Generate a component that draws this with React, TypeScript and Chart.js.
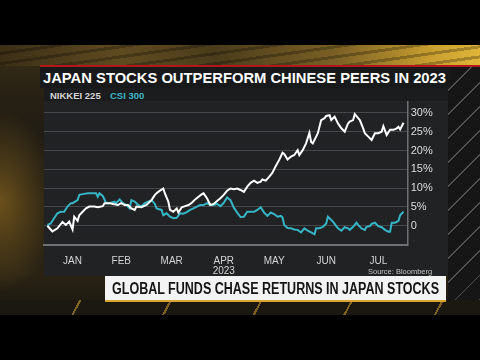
import React, { useEffect, useRef } from "react";
import { Chart, registerables } from "chart.js";

Chart.register(...registerables);

const titleText = "JAPAN STOCKS OUTPERFORM CHINESE PEERS IN 2023";
const bannerText = "GLOBAL FUNDS CHASE RETURNS IN JAPAN STOCKS";
const sourceText = "Source: Bloomberg";
const seriesNames = ["NIKKEI 225", "CSI 300"];

// x values: days since Jan 1, 2023
const monthLabels = ["JAN", "FEB", "MAR", "APR", "MAY", "JUN", "JUL"];
const monthTickDays = [15, 44, 74, 105, 135, 166, 197];
const yearLabel = "2023";
const yearLabelIndex = 3;
const yTickValues = [0, 5, 10, 15, 20, 25, 30];

const nikkeiDays = [
  0, 3, 6, 9, 11, 13, 15, 16, 18, 19, 21, 23, 25, 28, 30, 33, 34, 37, 39, 42,
  44, 46, 48, 50, 52, 53, 56, 59, 62, 64, 66, 69, 70, 72, 73, 75, 77, 78, 80, 82,
  84, 86, 88, 90, 92, 93, 95, 97, 99, 101, 103, 105, 107, 109, 111, 113, 115, 117, 119, 121,
  123, 125, 127, 128, 130, 132, 134, 136, 138, 140, 141, 143, 145, 147, 149, 150, 152, 154, 156, 157,
  158, 160, 161, 163, 165, 166, 168, 169, 171, 173, 175, 177, 179, 180, 182, 183, 185, 186, 188, 189,
  191, 193, 195, 197, 199, 200, 202, 204, 206, 208, 209, 210, 212,
];
const nikkeiValues = [
  0, -1.5, -0.7, 1.0, 0.2, 1.1, -1.0, 2.4, 1.3, 2.8, 3.7, 4.6, 5.1, 5.1, 4.9, 5.2, 6.0, 6.0, 5.8, 5.5,
  6.0, 5.5, 5.5, 4.6, 4.2, 5.1, 4.9, 5.5, 6.8, 8.2, 9.0, 9.9, 8.5, 6.4, 4.2, 3.7, 4.6, 3.5, 4.9, 5.2,
  5.5, 6.1, 7.0, 7.7, 8.4, 8.6, 7.3, 5.5, 5.8, 6.6, 7.3, 8.2, 9.3, 9.9, 9.7, 9.9, 9.5, 9.0, 10.4, 11.4,
  12.0, 11.4, 11.7, 12.3, 12.0, 13.0, 14.1, 15.9, 17.5, 19.4, 19.1, 17.6, 18.4, 18.8, 20.1, 18.8, 20.1, 21.9, 24.7, 22.3,
  21.9, 23.7, 24.6, 28.1, 28.6, 29.2, 29.4, 28.1, 29.0, 27.2, 25.9, 25.0, 27.2, 27.7, 28.1, 29.7, 28.6, 28.1, 25.9, 24.6,
  23.7, 22.8, 24.6, 24.6, 25.0, 26.5, 24.1, 25.5, 25.5, 25.9, 26.3, 25.6, 27.4,
];

const csiDays = [
  0, 2, 4, 6, 8, 10, 12, 14, 15, 18, 19, 21, 24, 27, 29, 30, 31, 33, 35, 37,
  40, 41, 43, 45, 47, 49, 50, 52, 54, 56, 58, 60, 62, 64, 65, 68, 69, 71, 73, 75,
  77, 79, 81, 83, 85, 87, 89, 91, 93, 95, 97, 99, 101, 103, 105, 107, 109, 111, 113, 115,
  117, 119, 121, 123, 125, 127, 129, 131, 133, 135, 137, 139, 140, 141, 143, 145, 147, 149, 151, 153,
  155, 157, 159, 160, 162, 164, 166, 167, 169, 170, 172, 173, 175, 177, 179, 180, 182, 184, 185, 187,
  189, 190, 192, 193, 195, 197, 199, 201, 203, 204, 205, 207, 209, 210, 212,
];
const csiValues = [
  0.2, 0.6, 2.0, 3.3, 3.7, 3.7, 5.1, 6.0, 6.0, 6.8, 8.2, 8.4, 8.6, 8.6, 8.6, 7.7, 8.6, 7.9, 6.0, 6.0,
  6.4, 6.0, 7.0, 6.0, 5.5, 4.6, 6.8, 6.4, 5.5, 5.1, 6.0, 6.4, 6.8, 5.8, 4.6, 4.2, 2.8, 3.3, 2.4, 2.0,
  2.1, 3.3, 3.2, 3.6, 4.2, 4.6, 5.1, 5.5, 5.5, 6.0, 5.5, 5.5, 5.8, 5.2, 6.1, 7.5, 6.8, 4.8, 3.5, 2.3,
  2.4, 3.7, 3.7, 3.7, 4.2, 4.9, 3.5, 2.6, 3.5, 3.1, 2.4, 2.6, 2.2, 0.2, -0.6, -0.7, -1.0, -1.1, -1.8, -0.7,
  -1.3, -1.8, -2.3, -0.7, -0.7, -0.3, 0.6, 2.4, 1.5, 1.1, -0.1, -0.7, -1.3, -0.4, -0.7, -1.1, -0.3, 0.8, 0.2, -0.7,
  -1.1, -0.3, -0.1, 0.5, 0.8, -0.1, -0.4, -1.1, -1.6, -1.6, 0.8, 0.8, 1.3, 2.8, 3.7,
];

const toPoints = (days: number[], vals: number[]) => {
  const n = Math.min(days.length, vals.length);
  const out: { x: number; y: number }[] = [];
  for (let i = 0; i < n; i++) out.push({ x: days[i], y: vals[i] });
  return out;
};

const FONT = "'Liberation Sans', Arial, sans-serif";

export default function App() {
  const canvasRef = useRef<HTMLCanvasElement>(null);
  const titleRef = useRef<HTMLSpanElement>(null);
  const bannerRef = useRef<HTMLSpanElement>(null);

  useEffect(() => {
    const fit = (el: HTMLElement | null, target: number) => {
      if (!el) return;
      el.style.transform = "none";
      const w = el.getBoundingClientRect().width;
      if (w > 0) el.style.transform = `scaleX(${target / w})`;
    };
    fit(titleRef.current, 403);
    fit(bannerRef.current, 327);

    const canvas = canvasRef.current!;
    const chart = new Chart(canvas, {
      type: "line",
      data: {
        datasets: [
          {
            label: seriesNames[0],
            data: toPoints(nikkeiDays, nikkeiValues),
            borderColor: "#ffffff",
            borderWidth: 2,
            pointRadius: 0,
            tension: 0,
          },
          {
            label: seriesNames[1],
            data: toPoints(csiDays, csiValues),
            borderColor: "#36b5c6",
            borderWidth: 2,
            pointRadius: 0,
            tension: 0,
          },
        ],
      },
      options: {
        responsive: false,
        animation: false,
        devicePixelRatio: 1,
        parsing: false as any,
        layout: { padding: { left: 44, top: 102, right: 0, bottom: 0 } },
        plugins: { legend: { display: false }, tooltip: { enabled: false } },
        scales: {
          x: {
            type: "linear",
            min: -2,
            max: 214.5,
            grid: { display: false },
            border: { display: true, color: "#6f7073", width: 2 },
            afterBuildTicks: (s: any) => {
              s.ticks = monthTickDays.map((v) => ({ value: v }));
            },
            afterFit: (s: any) => {
              s.height = 115;
            },
            ticks: {
              autoSkip: false,
              maxRotation: 0,
              padding: 3,
              color: "#d4d4d4",
              font: { family: FONT, size: 10, lineHeight: 1.0 },
              callback: (_v: any, i: number) =>
                i === yearLabelIndex ? [monthLabels[i], yearLabel] : monthLabels[i],
            },
          },
          y: {
            position: "right",
            min: -5.13,
            max: 32.9,
            afterBuildTicks: (s: any) => {
              s.ticks = yTickValues.map((v) => ({ value: v }));
            },
            afterFit: (s: any) => {
              s.width = 72.3;
            },
            grid: { color: "#46474a", lineWidth: 1, drawTicks: false },
            border: { display: true, color: "#6f7073", width: 1.5 },
            ticks: {
              padding: 3,
              color: "#dcdcdc",
              font: { family: FONT, size: 11 },
              callback: (v: any) => (Number(v) === 0 ? "0" : `${v}%`),
            },
          },
        },
      },
    });
    return () => chart.destroy();
  }, []);

  const abs = (s: React.CSSProperties): React.CSSProperties => ({ position: "absolute", ...s });

  return (
    <div
      style={{
        position: "fixed",
        left: 0,
        top: 0,
        width: 480,
        height: 360,
        background: "#000",
        overflow: "hidden",
        fontFamily: FONT,
      }}
    >
      {/* video background */}
      <div
        style={abs({
          left: 0,
          top: 45,
          width: 480,
          height: 270,
          background:
            "radial-gradient(ellipse 60px 90px at 0% 58%, rgba(170,125,35,0.55), rgba(0,0,0,0)), linear-gradient(to bottom, #3a2f17 0%, #262014 20%, #1c1913 50%, #2a2314 85%, #1a1710 100%)",
        })}
      />
      <div
        style={abs({
          left: 0,
          top: 45,
          width: 480,
          height: 21,
          background:
            "repeating-linear-gradient(172deg, rgba(0,0,0,0) 0 7px, rgba(0,0,0,0.25) 7px 10px), linear-gradient(to right, #3a2e16 0%, #5f4b20 25%, #4a3c1b 45%, #7a6025 70%, #c99f2f 90%, #e0b53a 100%)",
        })}
      />
      <div
        style={abs({
          left: 448,
          top: 67,
          width: 32,
          height: 233,
          background:
            "repeating-linear-gradient(135deg, rgba(0,0,0,0) 0 16px, rgba(190,190,190,0.35) 16px 17px), #161617",
        })}
      />
      <div
        style={abs({
          left: 0,
          top: 300,
          width: 480,
          height: 15,
          background:
            "repeating-linear-gradient(118deg, rgba(0,0,0,0) 0 70px, rgba(210,160,45,0.55) 70px 72px, rgba(0,0,0,0) 72px 80px), #1b1811",
        })}
      />

      {/* title */}
      <div style={abs({ left: 40, top: 65, width: 440, height: 2, background: "#b3161d" })} />
      <div style={abs({ left: 40, top: 67, width: 410, height: 21, background: "#18191b" })} />
      <span
        ref={titleRef}
        style={abs({
          left: 43,
          top: 67,
          height: 21,
          lineHeight: "22px",
          fontSize: 14.7,
          fontWeight: 700,
          color: "#ffffff",
          whiteSpace: "nowrap",
          transformOrigin: "left center",
        })}
      >
        {titleText}
      </span>

      {/* chart panel */}
      <div style={abs({ left: 44, top: 88, width: 404, height: 13, background: "#1b1c1e" })} />
      <div style={abs({ left: 44, top: 101, width: 404, height: 175, background: "#212224" })} />
      <span
        style={abs({
          left: 50,
          top: 88,
          lineHeight: "15px",
          fontSize: 9.5,
          fontWeight: 700,
          color: "#d4d4d4",
          whiteSpace: "nowrap",
        })}
      >
        {seriesNames[0]}
      </span>
      <span
        style={abs({
          left: 110,
          top: 88,
          lineHeight: "15px",
          fontSize: 9.5,
          fontWeight: 700,
          color: "#3bb6c6",
          whiteSpace: "nowrap",
        })}
      >
        {seriesNames[1]}
      </span>

      <canvas
        ref={canvasRef}
        width={480}
        height={360}
        style={abs({ left: 0, top: 0, width: 480, height: 360, pointerEvents: "none" })}
      />

      <span
        style={abs({
          left: 368,
          top: 267,
          lineHeight: "9px",
          fontSize: 7.5,
          color: "#c0c0c0",
          whiteSpace: "nowrap",
        })}
      >
        {sourceText}
      </span>

      {/* lower third */}
      <div
        style={abs({
          left: 105,
          top: 276,
          width: 341,
          height: 24,
          background: "#f3f3f3",
          borderBottom: "2px solid #d8a630",
        })}
      />
      <span
        ref={bannerRef}
        style={abs({
          left: 112,
          top: 276,
          height: 24,
          lineHeight: "25px",
          fontSize: 16,
          fontWeight: 700,
          color: "#151515",
          whiteSpace: "nowrap",
          transformOrigin: "left center",
        })}
      >
        {bannerText}
      </span>
    </div>
  );
}
